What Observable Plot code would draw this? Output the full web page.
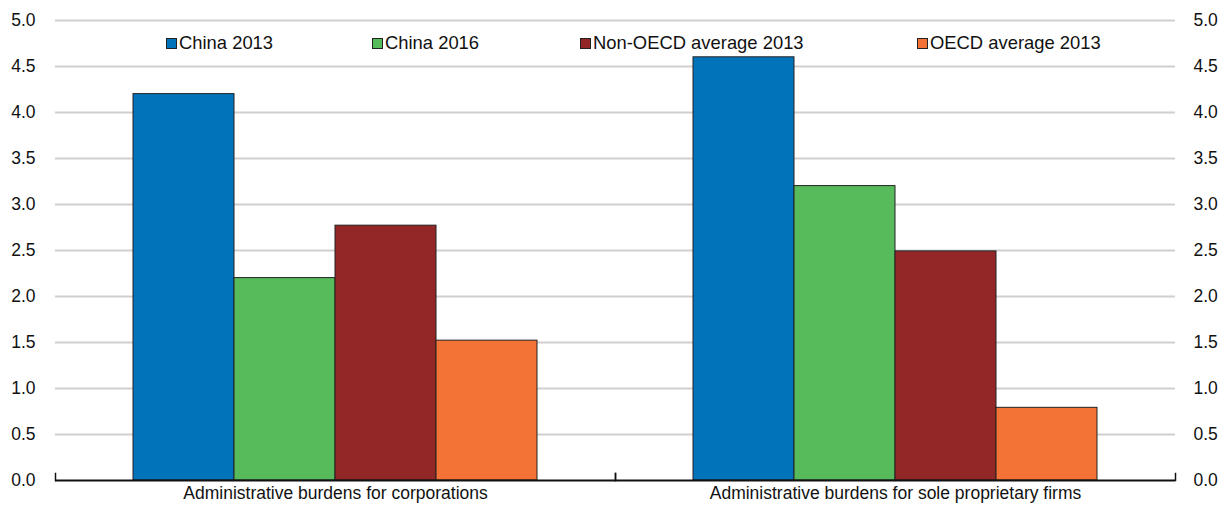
<!DOCTYPE html>
<html><head><meta charset="utf-8">
<script src="https://cdn.jsdelivr.net/npm/d3@7"></script>
<script src="https://cdn.jsdelivr.net/npm/@observablehq/plot@0.6"></script>
<style>
body{margin:0;background:#fff;}
#wrap{position:relative;width:1228px;height:509px;font-family:"Liberation Sans",Arial,sans-serif;}
#legend{position:absolute;top:32px;left:0;width:1228px;height:22px;}
.item{position:absolute;top:0;height:22px;display:flex;align-items:center;font-size:18.4px;color:#111;white-space:nowrap;}
.item:nth-child(1){left:166px;}
.item:nth-child(2){left:372px;}
.item:nth-child(3){left:580px;}
.item:nth-child(4){left:917px;}
.sw{width:9px;height:9px;border:1px solid #222;margin-right:2px;}
</style></head>
<body><div id="wrap"><div id="legend"></div></div>
<script>
const groups = ["Administrative burdens for corporations", "Administrative burdens for sole proprietary firms"];
const seriesNames = ["China 2013", "China 2016", "Non-OECD average 2013", "OECD average 2013"];
const corporations = [4.2, 2.2, 2.77, 1.52];
const soleProprietary = [4.6, 3.2, 2.49, 0.79];
const yTicks = [0, 0.5, 1, 1.5, 2, 2.5, 3, 3.5, 4, 4.5, 5];
const colors = ["#0173ba", "#57bb5c", "#932626", "#f37336"];

const data = [];
seriesNames.forEach((s, i) => data.push({group: groups[0], series: s, value: corporations[i]}));
seriesNames.forEach((s, i) => data.push({group: groups[1], series: s, value: soleProprietary[i]}));

const font = '"Liberation Sans",Arial,sans-serif';
const chart = Plot.plot({
  width: 1228, height: 509,
  marginTop: 20, marginBottom: 29, marginLeft: 55, marginRight: 53,
  style: {fontFamily: font, fontSize: "17.5px", color: "#111", background: "#fff"},
  fx: {domain: groups, padding: 0, label: null},
  x: {domain: seriesNames, paddingInner: 0, paddingOuter: 0.752, axis: null},
  y: {domain: [0, 5], label: null},
  color: {domain: seriesNames, range: colors},
  marks: [
    Plot.gridY(yTicks.filter(d => d > 0), {stroke: "#cfcfcf", strokeOpacity: 1, strokeWidth: 2}),
    Plot.barY(data, {fx: "group", x: "series", y: "value", fill: "series", stroke: "#222", strokeWidth: 1}),
    Plot.ruleY([0], {stroke: "#111", strokeWidth: 2}),
    Plot.axisY(yTicks, {anchor: "left", tickSize: 0, tickPadding: 20, tickFormat: ".1f", label: null}),
    Plot.axisY(yTicks, {anchor: "right", tickSize: 0, tickPadding: 18, tickFormat: ".1f", label: null}),
    Plot.axisFx({anchor: "bottom", tickSize: 0, tickPadding: 6, label: null}),
    Plot.frame({anchor: "left", insetTop: 453, stroke: "#111", strokeWidth: 1.5}),
    Plot.frame({anchor: "right", insetTop: 453, stroke: "#111", strokeWidth: 1.5})
  ]
});
document.getElementById("wrap").prepend(chart);

const legend = document.getElementById("legend");
seriesNames.forEach((s, i) => {
  const it = document.createElement("div");
  it.className = "item";
  const sw = document.createElement("span");
  sw.className = "sw";
  sw.style.background = colors[i];
  it.appendChild(sw);
  it.appendChild(document.createTextNode(s));
  legend.appendChild(it);
});
</script>
</body></html>
